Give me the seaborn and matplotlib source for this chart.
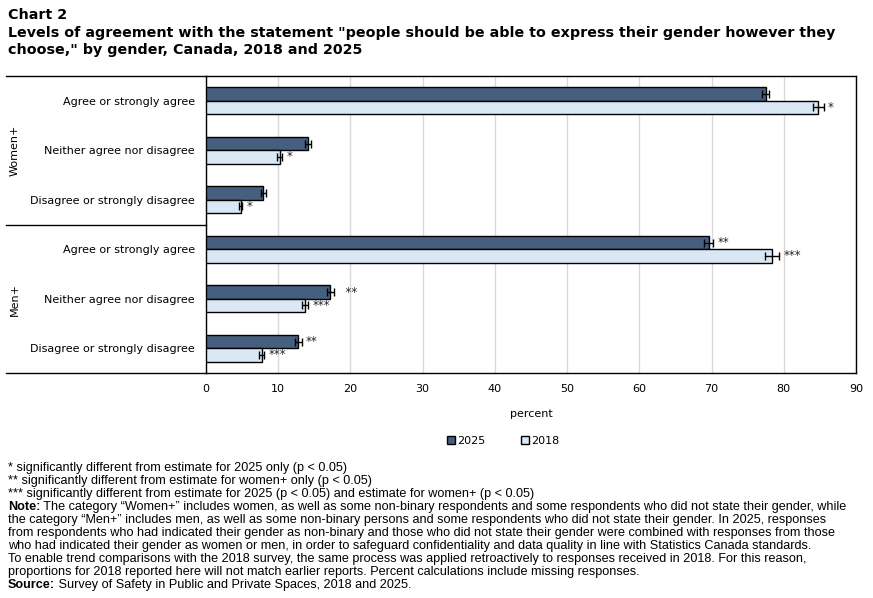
import matplotlib
matplotlib.use('Agg')
import matplotlib.pyplot as plt
import seaborn as sns
import pandas as pd

# data
groups = ['Women+', 'Women+', 'Women+', 'Men+', 'Men+', 'Men+']
responses = ['Agree or strongly agree', 'Neither agree nor disagree', 'Disagree or strongly disagree'] * 2
val_2025 = [77.5, 14.1, 7.9, 69.6, 17.2, 12.8]
err_2025 = [0.5, 0.4, 0.35, 0.6, 0.5, 0.45]
sig_2025 = ['', '', '', '**', '  **', '**']
val_2018 = [84.8, 10.2, 4.8, 78.4, 13.7, 7.7]
err_2018 = [0.7, 0.35, 0.25, 1.0, 0.45, 0.35]
sig_2018 = ['*', '*', '*', '***', '***', '***']
years = ['2025', '2018']
colors = ['#465f7e', '#dae8f6']

title_lines = ['Chart 2',
               'Levels of agreement with the statement "people should be able to express their gender however they',
               'choose," by gender, Canada, 2018 and 2025']

footnotes = [
    ('', '* significantly different from estimate for 2025 only (p < 0.05)'),
    ('', '** significantly different from estimate for women+ only (p < 0.05)'),
    ('', '*** significantly different from estimate for 2025 (p < 0.05) and estimate for women+ (p < 0.05)'),
    ('Note:', ' The category \u201cWomen+\u201d includes women, as well as some non-binary respondents and some respondents who did not state their gender, while'),
    ('', 'the category \u201cMen+\u201d includes men, as well as some non-binary persons and some respondents who did not state their gender. In 2025, responses'),
    ('', 'from respondents who had indicated their gender as non-binary and those who did not state their gender were combined with responses from those'),
    ('', 'who had indicated their gender as women or men, in order to safeguard confidentiality and data quality in line with Statistics Canada standards.'),
    ('', 'To enable trend comparisons with the 2018 survey, the same process was applied retroactively to responses received in 2018. For this reason,'),
    ('', 'proportions for 2018 reported here will not match earlier reports. Percent calculations include missing responses.'),
    ('Source:', ' Survey of Safety in Public and Private Spaces, 2018 and 2025.'),
]

rows = [g + '|' + r for g, r in zip(groups, responses)]
df = pd.DataFrame({
    'row': rows * 2,
    'year': [years[0]] * 6 + [years[1]] * 6,
    'value': val_2025 + val_2018,
    'err': err_2025 + err_2018,
    'sig': sig_2025 + sig_2018,
})

W, H = 873, 598
fig = plt.figure(figsize=(W / 100, H / 100), dpi=100)
ax = fig.add_axes([206 / W, 1 - 373 / H, 650 / W, 297 / H])

sns.barplot(data=df, y='row', x='value', hue='year', hue_order=years,
            palette=colors, saturation=1, orient='h', width=0.54,
            edgecolor='black', linewidth=1, errorbar=None, ax=ax, zorder=3)

# error bars and significance markers on each bar
for cont, yr in zip(ax.containers, years):
    sub = df[df['year'] == yr]
    for patch, (_, r) in zip(cont.patches, sub.iterrows()):
        yc = patch.get_y() + patch.get_height() / 2
        ax.errorbar(r['value'], yc, xerr=r['err'], fmt='none', ecolor='black',
                    elinewidth=1, capsize=3, capthick=1, zorder=4)
        if r['sig']:
            ax.text(r['value'] + r['err'] + 0.6, yc, r['sig'], va='center',
                    ha='left', fontsize=8.5, color='#222222')

ax.set_xlim(0, 90)
ax.set_xticks(range(0, 91, 10))
ax.set_ylim(5.5, -0.5)
ax.set_yticks(range(6))
ax.set_yticklabels(responses, fontsize=8)
ax.tick_params(axis='x', labelsize=8, length=0, pad=8)
ax.tick_params(axis='y', length=0, pad=8)
ax.set_ylabel('')
ax.set_xlabel('percent', fontsize=8, labelpad=11)
ax.grid(axis='x', color='#d9d9d9', linewidth=1, zorder=0)
ax.set_axisbelow(True)
for s in ax.spines.values():
    s.set_color('black')
    s.set_linewidth(1)

# horizontal frame lines extending under the labels
ext = -200 / 650
for yy in (0, 0.5, 1):
    ax.plot([ext, 0], [yy, yy], transform=ax.transAxes, color='black',
            linewidth=1, clip_on=False)

fig.text(15 / W, 1 - 150 / H, 'Women+', rotation=90, ha='center', va='center', fontsize=8)
fig.text(15 / W, 1 - 299 / H, 'Men+', rotation=90, ha='center', va='center', fontsize=8)

handles, labels = ax.get_legend_handles_labels()
if ax.legend_:
    ax.legend_.remove()
fig.legend(handles, labels, loc='center', bbox_to_anchor=(503 / W, 1 - 441 / H),
           ncol=2, frameon=False, fontsize=8, handlelength=0.7, handleheight=0.7,
           handletextpad=0.2, columnspacing=3.2)

# title
for i, line in enumerate(title_lines):
    fig.text(8 / W, 1 - (15 + i * 17.5) / H, line, fontsize=10.3,
             fontweight='bold', va='center', ha='left')

# footnotes
fig.canvas.draw()
renderer = fig.canvas.get_renderer()
for i, (bold, rest) in enumerate(footnotes):
    y = 1 - (468 + i * 13) / H
    x = 8 / W
    if bold:
        t = fig.text(x, y, bold, fontsize=9.1, fontweight='bold', va='center',
                     ha='left', family='Liberation Sans')
        bb = t.get_window_extent(renderer)
        x = bb.x1 / W
    fig.text(x, y, rest, fontsize=9.1, va='center', ha='left', family='Liberation Sans')

fig.savefig('out.png', dpi=100)
